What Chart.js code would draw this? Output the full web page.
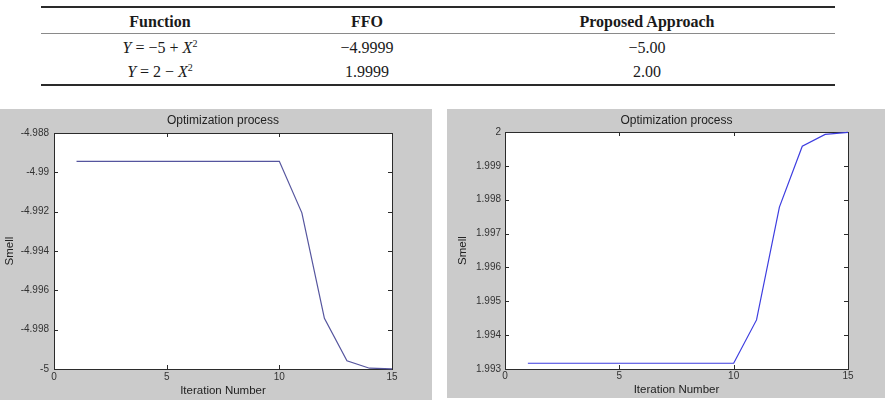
<!DOCTYPE html>
<html>
<head>
<meta charset="utf-8">
<script src="https://cdn.jsdelivr.net/npm/chart.js@4/dist/chart.umd.min.js"></script>
<style>
  html, body { margin: 0; padding: 0; background: #fff; }
  #page { position: relative; width: 895px; height: 402px; overflow: hidden; }
  .rule { position: absolute; left: 41px; width: 794px; }
  .cell { position: absolute; transform: translate(-50%, -50%); white-space: nowrap;
          font-family: "Liberation Serif", "Times New Roman", serif; font-size: 16px; color: #1a1a1a; }
  .hd { font-weight: bold; }
  .cell sup { font-size: 10px; vertical-align: 6px; line-height: 0; }
  canvas { position: absolute; background: #cbcbcb; }
</style>
</head>
<body>
<div id="page">
  <div class="rule" style="top:6px;height:1.5px;background:#2a2a2a"></div>
  <div class="rule" style="top:33px;height:1px;background:#8a8a8a"></div>
  <div class="rule" style="top:84px;height:2px;background:#2a2a2a"></div>
  <div id="table"></div>
  <canvas id="c1" width="432" height="291" style="left:0px;top:109px"></canvas>
  <canvas id="c2" width="438" height="289" style="left:447px;top:109px"></canvas>
</div>
<script>
// ---- Table data ----
const tableHeaders = ['Function', 'FFO', 'Proposed Approach'];
const tableRows = [
  ['<i>Y</i> = −5 + <i>X</i><sup>2</sup>', '−4.9999', '−5.00'],
  ['<i>Y</i> = 2 − <i>X</i><sup>2</sup>', '1.9999', '2.00']
];

// ---- Chart data ----
const iterations = [1, 2, 3, 4, 5, 6, 7, 8, 9, 10, 11, 12, 13, 14, 15];
const smellLeft = [-4.98944, -4.98944, -4.98944, -4.98944, -4.98944, -4.98944, -4.98944, -4.98944, -4.98944, -4.98944,
                   -4.99206, -4.99742, -4.99958, -4.99996, -4.99999];
const smellRight = [1.99317, 1.99317, 1.99317, 1.99317, 1.99317, 1.99317, 1.99317, 1.99317, 1.99317, 1.99317,
                    1.99445, 1.99778, 1.99958, 1.99993, 1.99999];
const xTicks = [0, 5, 10, 15];
const xTickLabels = ['0', '5', '10', '15'];
const yTicksLeft = [-5, -4.998, -4.996, -4.994, -4.992, -4.99, -4.988];
const yTickLabelsLeft = ['-5', '-4.998', '-4.996', '-4.994', '-4.992', '-4.99', '-4.988'];
const yTicksRight = [1.993, 1.994, 1.995, 1.996, 1.997, 1.998, 1.999, 2];
const yTickLabelsRight = ['1.993', '1.994', '1.995', '1.996', '1.997', '1.998', '1.999', '2'];
const chartTitle = 'Optimization process';
const xTitle = 'Iteration Number';
const yTitle = 'Smell';

// ---- Build table ----
(function () {
  const colX = [160, 367, 647];
  const rowY = [47.5, 72];
  const t = document.getElementById('table');
  tableHeaders.forEach((h, i) => {
    const d = document.createElement('div');
    d.className = 'cell hd';
    d.style.left = colX[i] + 'px'; d.style.top = '21.5px';
    d.textContent = h; t.appendChild(d);
  });
  tableRows.forEach((row, r) => row.forEach((c, i) => {
    const d = document.createElement('div');
    d.className = 'cell';
    d.style.left = colX[i] + 'px'; d.style.top = rowY[r] + 'px';
    d.innerHTML = c; t.appendChild(d);
  }));
})();

// ---- Plugin: white plot area, box and inward ticks (MATLAB style) ----
const matlabAxes = {
  id: 'matlabAxes',
  beforeDraw(chart) {
    const a = chart.chartArea, ctx = chart.ctx;
    ctx.save(); ctx.fillStyle = '#ffffff';
    ctx.fillRect(a.left, a.top, a.right - a.left, a.bottom - a.top);
    ctx.restore();
  },
  beforeDatasetsDraw(chart) {
    const a = chart.chartArea, ctx = chart.ctx;
    const xs = chart.scales.x, ys = chart.scales.y;
    ctx.save();
    ctx.strokeStyle = '#2b2b2b'; ctx.lineWidth = 1;
    ctx.strokeRect(Math.round(a.left) + 0.5, Math.round(a.top) + 0.5,
                   Math.round(a.right - a.left), Math.round(a.bottom - a.top));
    const L = 4;
    ctx.beginPath();
    xs.ticks.forEach(t => {
      const px = Math.round(xs.getPixelForValue(t.value)) + 0.5;
      ctx.moveTo(px, a.bottom); ctx.lineTo(px, a.bottom - L);
      ctx.moveTo(px, a.top); ctx.lineTo(px, a.top + L);
    });
    ys.ticks.forEach(t => {
      const py = Math.round(ys.getPixelForValue(t.value)) + 0.5;
      ctx.moveTo(a.left, py); ctx.lineTo(a.left + L, py);
      ctx.moveTo(a.right, py); ctx.lineTo(a.right - L, py);
    });
    ctx.stroke();
    ctx.restore();
  }
};

function makeChart(id, values, color, yTicks, yLabels, geo) {
  const font = 'Liberation Sans, Arial, sans-serif';
  return new Chart(document.getElementById(id), {
    type: 'line',
    data: {
      datasets: [{
        data: iterations.map((x, i) => ({ x: x, y: values[i] })),
        borderColor: color, borderWidth: 1.2, pointRadius: 0, tension: 0, clip: 3, fill: false
      }]
    },
    options: {
      responsive: false, animation: false,
      layout: { padding: { left: 0, right: geo.right, top: 0, bottom: 0 } },
      plugins: {
        legend: { display: false }, tooltip: { enabled: false },
        title: { display: true, text: chartTitle, fullSize: false, color: '#222',
                 font: { family: font, size: 12, weight: 'normal' },
                 padding: { top: geo.titleTop, bottom: geo.titleBottom } }
      },
      scales: {
        x: {
          type: 'linear', min: 0, max: 15,
          grid: { display: false, drawTicks: false }, border: { display: false },
          afterBuildTicks: s => { s.ticks = xTicks.map(v => ({ value: v })); },
          afterFit: s => { s.height = geo.xh; },
          ticks: { padding: geo.xtp, color: '#333', font: { family: font, size: 10 },
                   autoSkip: false, maxRotation: 0, callback: (v, i) => xTickLabels[i] },
          title: { display: true, text: xTitle, color: '#222',
                   font: { family: font, size: 11.5 }, padding: { top: 0, bottom: geo.xtb } }
        },
        y: {
          type: 'linear', min: yTicks[0], max: yTicks[yTicks.length - 1],
          grid: { display: false, drawTicks: false }, border: { display: false },
          afterBuildTicks: s => { s.ticks = yTicks.map(v => ({ value: v })); },
          afterFit: s => { s.width = geo.yw; },
          ticks: { padding: geo.ytp, color: '#333', font: { family: font, size: 10 },
                   autoSkip: false, callback: (v, i) => yLabels[i] },
          title: { display: true, text: yTitle, color: '#222',
                   font: { family: font, size: 11.5 }, padding: { top: geo.ytt, bottom: 0 } }
        }
      }
    },
    plugins: [matlabAxes]
  });
}

makeChart('c1', smellLeft, '#55559e', yTicksLeft, yTickLabelsLeft,
  { right: 40, titleTop: 4.8, titleBottom: 4.8, xh: 31, xtp: 2, xtb: 2.1, yw: 54, ytp: 5, ytt: 3.1 });
makeChart('c2', smellRight, '#3d3de0', yTicksRight, yTickLabelsRight,
  { right: 37, titleTop: 4.8, titleBottom: 3.8, xh: 29, xtp: 1.7, xtb: 1.1, yw: 58, ytp: 4, ytt: 9.1 });
</script>
</body>
</html>
